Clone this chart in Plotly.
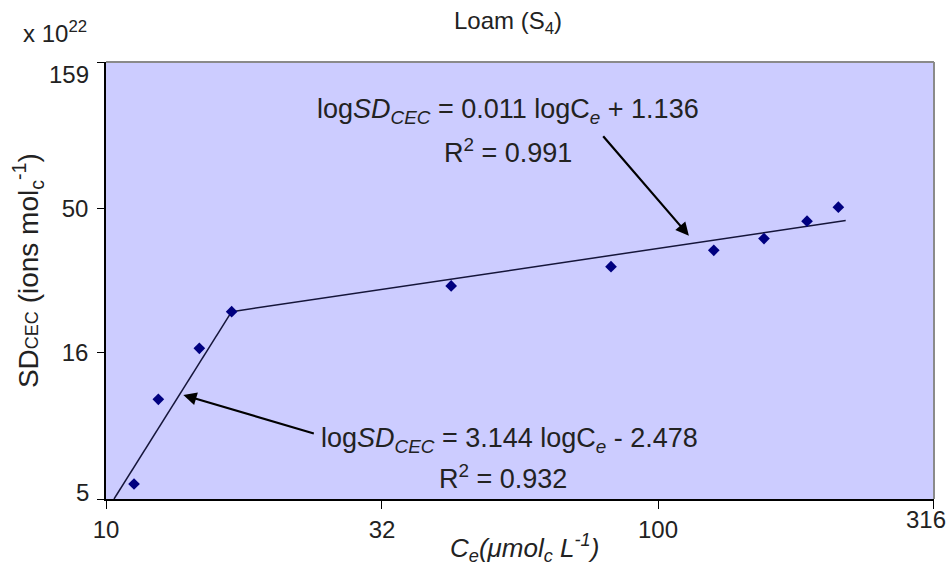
import plotly.graph_objects as go

# Data
ce_values = [11.24, 12.44, 14.76, 16.89, 42.2, 82.2, 126.2, 155.6, 186.2, 212.2]
sd_values = [5.63, 11.01, 16.48, 22.03, 27.0, 31.45, 35.8, 39.3, 45.1, 50.4]

fit1_x = [10.34, 16.89]
fit1_y = [5.0, 22.03]
fit2_x = [16.89, 218.8]
fit2_y = [22.03, 45.3]

x_tickvals = [10, 31.62, 100, 316]
x_ticktext = ["10", "32", "100", ""]
y_tickvals = [5, 15.9, 50, 159]
y_ticktext = ["", "16", "50", ""]

FONT = "Liberation Sans, Arial, sans-serif"
TXT = "#222222"

fig = go.Figure()
fig.add_trace(go.Scatter(x=fit1_x, y=fit1_y, mode="lines",
                         line=dict(color="#15153a", width=1.5), showlegend=False))
fig.add_trace(go.Scatter(x=fit2_x, y=fit2_y, mode="lines",
                         line=dict(color="#15153a", width=1.5), showlegend=False))
fig.add_trace(go.Scatter(x=ce_values, y=sd_values, mode="markers",
                         marker=dict(symbol="diamond", size=9, color="#000080"),
                         showlegend=False))

fig.update_layout(
    width=951, height=567,
    margin=dict(l=106, r=17, t=62, b=68),
    paper_bgcolor="white",
    plot_bgcolor="#CCCCFF",
    font=dict(family=FONT, size=22, color=TXT),
    title=dict(text="Loam (S<sub>4</sub>)", x=508/951, xanchor="center",
               y=1-21/567, yanchor="middle", xref="container", yref="container",
               font=dict(size=24, color=TXT)),
    xaxis=dict(type="log", range=[1, 2.5], tickvals=x_tickvals, ticktext=x_ticktext,
               showgrid=False, zeroline=False, showline=True, linecolor="black",
               linewidth=1.5, ticks="outside", ticklen=8, tickcolor="black",
               ticklabeloverflow="allow",
               tickfont=dict(size=24, color=TXT)),
    yaxis=dict(type="log", range=[0.69897, 2.20140], tickvals=y_tickvals, ticktext=y_ticktext,
               showgrid=False, zeroline=False, showline=True, linecolor="black",
               linewidth=1.5, ticks="outside", ticklen=7, tickcolor="black",
               ticklabelstandoff=4,
               tickfont=dict(size=24, color=TXT)),
)

# top and right gray border
fig.add_shape(type="line", xref="paper", yref="paper", x0=0, x1=1, y0=1, y1=1,
              line=dict(color="#8a8a8a", width=2))
fig.add_shape(type="line", xref="paper", yref="paper", x0=1, x1=1, y0=0, y1=1,
              line=dict(color="#8a8a8a", width=2))

def note(text, x, y, size, xanchor="center", yanchor="middle", **kw):
    return dict(text=text, x=x, y=y, xref="paper", yref="paper", showarrow=False,
                xanchor=xanchor, yanchor=yanchor, font=dict(size=size, color=TXT), **kw)

ann = []
# offset tick labels (as in the reference)
ann.append(note("159", -0.0181, 0.9725, 24, xanchor="right"))
ann.append(note("5", -0.0181, 0.016, 24, xanchor="right"))
ann.append(note("316", 1.0169, -0.048, 24, xanchor="right"))
ann.append(note("x 10<sup>22</sup>", -0.062, 1.068, 24))
ann.append(note("SD<span style='font-size:18px'>CEC</span> (ions mol<sub>c</sub><sup>-1</sup>)",
                -0.094, 0.522, 28, textangle=-90))
ann.append(note("<i>C<sub>e</sub>(μmol<sub>c</sub> L<sup>-1</sup>)</i>", 0.506, -0.112, 26))
ann.append(note("log<i>SD</i><sub><i>CEC</i></sub> = 0.011 logC<sub><i>e</i></sub> + 1.136",
                0.4855, 0.888, 27))
ann.append(note("R<sup>2</sup> = 0.991", 0.4855, 0.796, 27))
ann.append(note("log<i>SD</i><sub><i>CEC</i></sub> = 3.144 logC<sub><i>e</i></sub> - 2.478",
                0.4875, 0.135, 27))
ann.append(note("R<sup>2</sup> = 0.932", 0.48, 0.05, 27))
# arrows
ann.append(dict(text="", x=0.704, y=0.6025, xref="paper", yref="paper", showarrow=True,
                ax=-87, ay=-101, arrowhead=2, arrowsize=1.2, arrowwidth=2.2, arrowcolor="black"))
ann.append(dict(text="", x=0.0934, y=0.238, xref="paper", yref="paper", showarrow=True,
                ax=132, ay=39, arrowhead=2, arrowsize=1.2, arrowwidth=2.2, arrowcolor="black"))
fig.update_layout(annotations=ann)

fig.write_html("out.html")
